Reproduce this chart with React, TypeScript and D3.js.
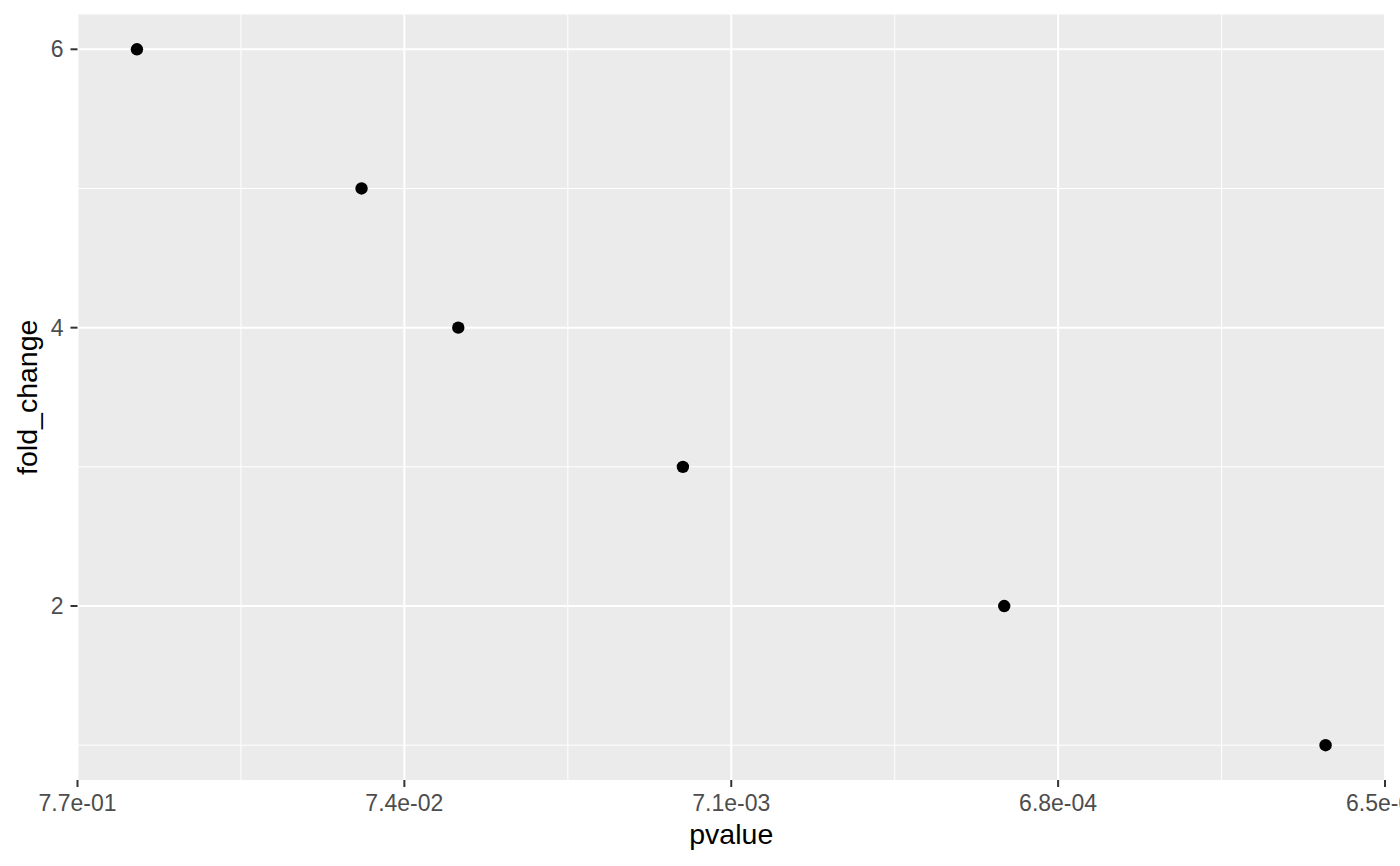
import React from "react";
import * as d3 from "d3";

const pvalue = [0.5, 0.1, 0.05, 0.01, 0.001, 0.0001];
const foldChange = [6, 5, 4, 3, 2, 1];
const yMajor = [2, 4, 6];
const yMinor = [1, 3, 5];

const W = 1400, H = 866;
const L = 77.5, R = 1385, T = 14.5, B = 780;

export default function App() {
  const lx = pvalue.map((p) => Math.log10(p));
  const lmin = d3.min(lx)!, lmax = d3.max(lx)!;
  const ex = (lmax - lmin) * 0.05;
  const dom: [number, number] = [lmax + ex, lmin - ex];
  const x = d3.scaleLinear().domain(dom).range([L, R]);
  const y = d3.scaleLinear().domain([0.75, 6.25]).range([B, T]);
  const xMajorLog = d3.range(5).map((i) => dom[0] + ((dom[1] - dom[0]) * i) / 4);
  const xMinorLog = d3.range(4).map((i) => (xMajorLog[i] + xMajorLog[i + 1]) / 2);
  const fmt = (v: number) => {
    const s = Math.pow(10, v).toExponential(1);
    return s.replace(/e([+-])(\d)$/, "e$10$2");
  };
  const font = "Liberation Sans, Arial, Helvetica, sans-serif";
  return (
    <svg width={W} height={H} style={{ position: "absolute", left: 0, top: 0, background: "#fff" }} fontFamily={font}>
      <rect x={L} y={T} width={R - L} height={B - T} fill="#EBEBEB" />
      {xMinorLog.map((v, i) => (
        <line key={"xm" + i} x1={x(v)} x2={x(v)} y1={T} y2={B} stroke="#fff" strokeWidth={1} />
      ))}
      {yMinor.map((v, i) => (
        <line key={"ym" + i} x1={L} x2={R} y1={y(v)} y2={y(v)} stroke="#fff" strokeWidth={1} />
      ))}
      {xMajorLog.map((v, i) => (
        <line key={"xM" + i} x1={x(v)} x2={x(v)} y1={T} y2={B} stroke="#fff" strokeWidth={2} />
      ))}
      {yMajor.map((v, i) => (
        <line key={"yM" + i} x1={L} x2={R} y1={y(v)} y2={y(v)} stroke="#fff" strokeWidth={2} />
      ))}
      {pvalue.map((p, i) => (
        <circle key={"p" + i} cx={x(Math.log10(p))} cy={y(foldChange[i])} r={6.2} fill="#000" />
      ))}
      {yMajor.map((v, i) => (
        <g key={"yt" + i}>
          <line x1={L - 7} x2={L} y1={y(v)} y2={y(v)} stroke="#333" strokeWidth={2} />
          <text x={L - 14} y={y(v)} dy="0.35em" textAnchor="end" fontSize={23} fill="#4D4D4D">{v}</text>
        </g>
      ))}
      {xMajorLog.map((v, i) => (
        <g key={"xt" + i}>
          <line x1={x(v)} x2={x(v)} y1={B} y2={B + 7} stroke="#333" strokeWidth={2} />
          <text x={x(v)} y={811} textAnchor="middle" fontSize={23} fill="#4D4D4D">{fmt(v)}</text>
        </g>
      ))}
      <text x={(L + R) / 2} y={844} textAnchor="middle" fontSize={28.5} fill="#000">pvalue</text>
      <text transform={`translate(37,${(T + B) / 2}) rotate(-90)`} textAnchor="middle" fontSize={28.5} fill="#000">fold_change</text>
    </svg>
  );
}
